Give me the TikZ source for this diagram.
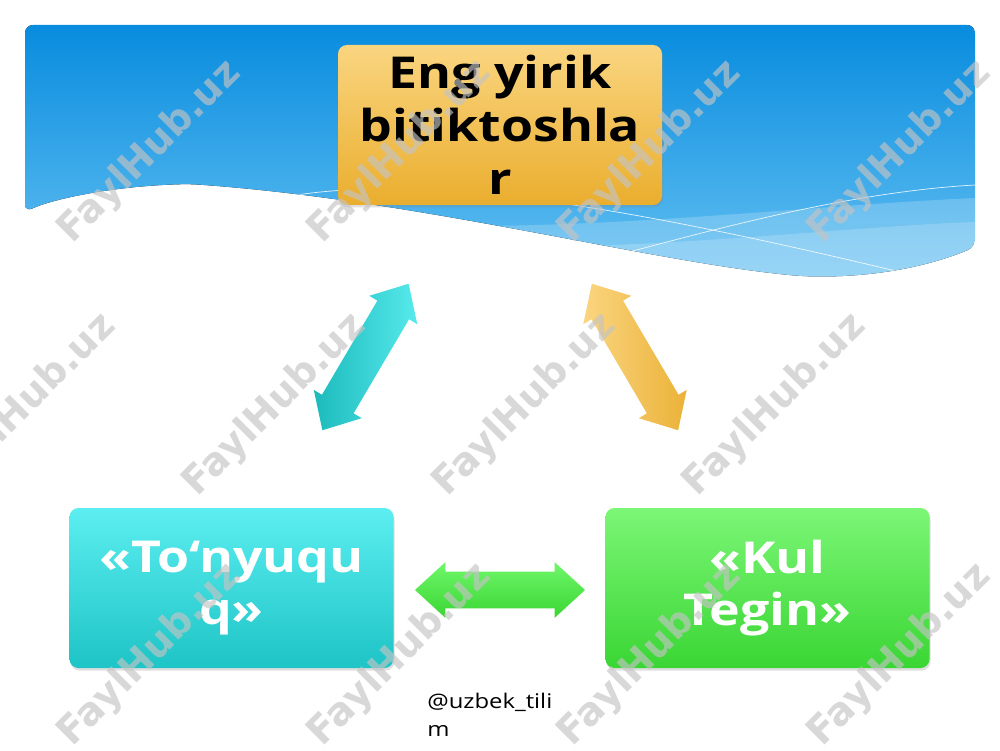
\documentclass[tikz,border=0pt]{standalone}
\usepackage{fontspec}
\setmainfont{Open Sans}[FakeStretch=1.18]
\newfontfamily\stampfont{DejaVu Sans}
\usetikzlibrary{shapes.arrows,shadows}

\definecolor{skytop}{RGB}{8,140,222}
\definecolor{skybot}{RGB}{100,192,242}
\definecolor{goldtop}{RGB}{250,213,128}
\definecolor{goldbot}{RGB}{234,174,46}
\definecolor{cyantop}{RGB}{92,238,240}
\definecolor{cyanbot}{RGB}{30,196,198}
\definecolor{greentop}{RGB}{124,246,118}
\definecolor{greenbot}{RGB}{58,214,52}
\definecolor{stampgray}{RGB}{196,196,196}

\begin{document}
\begin{tikzpicture}[
    box/.style={minimum width=6.48cm, minimum height=3.2cm, align=center, rounded corners=0.18cm, inner sep=0pt,
      font=\bfseries\fontsize{25}{30}\selectfont, drop shadow={opacity=0.25, shadow xshift=0.02cm, shadow yshift=-0.05cm}},
    title/.style={box, top color=goldtop, bottom color=goldbot, text=black},
    topic/.style={box, text=white},
    link/.style={double arrow, double arrow head extend=0.19cm, double arrow tip angle=85,
      minimum width=1.1cm, minimum height=3.4cm, inner xsep=0pt, inner ysep=0.36cm},
    stamp/.style={rotate=45, text=stampgray, text opacity=0.65, font=\stampfont\bfseries\fontsize{22}{22}\selectfont}
  ]

  \useasboundingbox (0,0) rectangle (20,15);
  \fill[white] (0,0) rectangle (20,15);

  % Sky banner at the top
  \begin{scope}
    \clip[rounded corners=0.16cm] (0.5,10.76) -- (0.5,14.5) -- (19.5,14.5) -- (19.5,10.06)
      .. controls (18.4,9.6) and (17.2,9.44) .. (16,9.48)
      .. controls (13,9.76) and (8.4,11) .. (3.8,11.32)
      .. controls (2.2,11.28) and (1,11) .. (0.5,10.76) -- cycle;
    \fill[top color=skytop, bottom color=skybot] (0.5,9.4) rectangle (19.5,14.5);
    \fill[white, opacity=0.2] (9.6,10.48) .. controls (13,10.5) and (16.4,10.9) .. (19.5,11.04)
      -- (20,11.04) -- (20,9) -- (9.6,9) -- cycle;
    \fill[white, opacity=0.18] (11.8,10.08) .. controls (15,10.2) and (17.6,10.5) .. (19.5,10.56)
      -- (20,10.56) -- (20,9) -- (11.8,9) -- cycle;
    \draw[white, line width=0.4pt, opacity=0.85] (5.8,11.08) .. controls (8.4,11.5) and (12,11) .. (18,9.56);
    \draw[white, line width=0.4pt, opacity=0.85] (12.2,9.86) .. controls (14.4,10.44) and (17,11.16) .. (19.5,11.3);
  \end{scope}

  % Boxes
  \node[title] (bitik) at (10,12.5) {Eng yirik\\bitiktoshla\\r};
  \node[topic, top color=cyantop, bottom color=cyanbot] (tonyuquq) at (4.63,3.24) {«To‘nyuqu\\q»};
  \node[topic, top color=greentop, bottom color=greenbot] (kultegin) at (15.35,3.24) {«Kul\\Tegin»};

  % Double arrows between the boxes
  \node[link, rotate=59.5, left color=cyanbot!95!black, right color=cyantop!90!cyanbot] (linkl) at (7.31,7.86) {};
  \node[link, rotate=-59.5, left color=goldtop, right color=goldbot!95!white] (linkr) at (12.7,7.86) {};
  \node[link, top color=greentop!90!green, bottom color=greenbot] (linkb) at (10,3.2) {};

  % Footer
  \node[anchor=north west, align=left, inner sep=0pt, font=\fontsize{11.5}{16}\selectfont] (handle) at (8.54,1.14) {@uzbek\_tili\\m};

  % Watermarks
  \node[stamp] (wm1) at (3,11.96) {FaylHub.uz};
  \node[stamp] (wm2) at (8,11.96) {FaylHub.uz};
  \node[stamp] (wm3) at (13,11.96) {FaylHub.uz};
  \node[stamp] (wm4) at (18,11.96) {FaylHub.uz};
  \node[stamp] (wm5) at (0.5,6.9) {FaylHub.uz};
  \node[stamp] (wm6) at (5.5,6.9) {FaylHub.uz};
  \node[stamp] (wm7) at (10.5,6.9) {FaylHub.uz};
  \node[stamp] (wm8) at (15.5,6.9) {FaylHub.uz};
  \node[stamp] (wm9) at (3,1.9) {FaylHub.uz};
  \node[stamp] (wm10) at (8,1.9) {FaylHub.uz};
  \node[stamp] (wm11) at (13,1.9) {FaylHub.uz};
  \node[stamp] (wm12) at (18,1.9) {FaylHub.uz};

\end{tikzpicture}
\end{document}
